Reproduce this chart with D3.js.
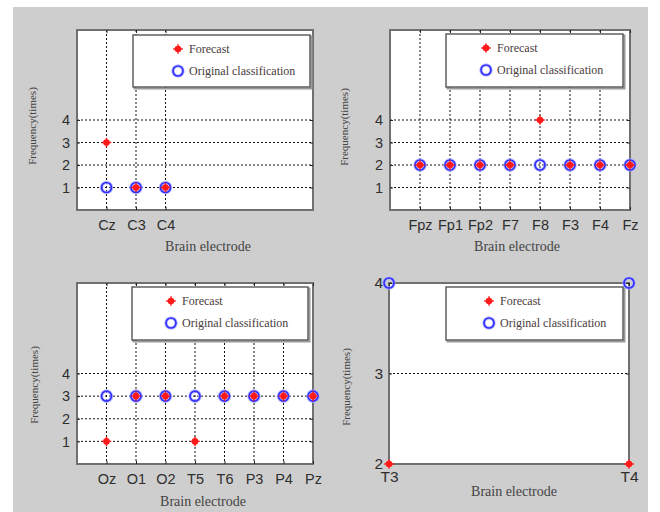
<!DOCTYPE html>
<html><head><meta charset="utf-8">
<script src="https://cdn.jsdelivr.net/npm/d3@7"></script>
<style>html,body{margin:0;padding:0;background:#fff;} svg{display:block;}</style>
</head><body>
<script>
// ---- data ----
const electrodesTL = ["Cz","C3","C4"];
const forecastTL = [3,1,1];
const originalTL = [1,1,1];
const electrodesTR = ["Fpz","Fp1","Fp2","F7","F8","F3","F4","Fz"];
const forecastTR = [2,2,2,2,4,2,2,2];
const originalTR = [2,2,2,2,2,2,2,2];
const electrodesBL = ["Oz","O1","O2","T5","T6","P3","P4","Pz"];
const forecastBL = [1,3,3,1,3,3,3,3];
const originalBL = [3,3,3,3,3,3,3,3];
const electrodesBR = ["T3","T4"];
const forecastBR = [2,2];
const originalBR = [4,4];
const yTicksMain = [1,2,3,4];
const yTicksBR = [2,3,4];
const legendLabels = ["Forecast","Original classification"];
const xAxisTitle = "Brain electrode";
const yAxisTitle = "Frequency(times)";

// ---- layout ----
const panels = [
  {names:electrodesTL, fc:forecastTL, orig:originalTL, yTicks:yTicksMain,
   box:[77,313,30,210], xDom:[0,8], yDom:[0,8],
   leg:[133,35,177,52,45], xl:[208,251], yl:[32,126], tf:14.5, xp:10, yp:7},
  {names:electrodesTR, fc:forecastTR, orig:originalTR, yTicks:yTicksMain,
   box:[390,630,30,210], xDom:[0,8], yDom:[0,8],
   leg:[446,34,177,53,40], xl:[517,251], yl:[344,127], tf:14.5, xp:10, yp:7},
  {names:electrodesBL, fc:forecastBL, orig:originalBL, yTicks:yTicksMain,
   box:[77,313,283,464], xDom:[0,8], yDom:[0,8],
   leg:[132,287,176,53,39], xl:[203,506], yl:[34,385], tf:14.5, xp:10, yp:7},
  {names:electrodesBR, fc:forecastBR, orig:originalBR, yTicks:yTicksBR,
   box:[389,629,283,464], xDom:[1,2], yDom:[2,4],
   leg:[446,287,177,53,43], xl:[514,496], yl:[346,387], tf:15.5, xp:7, yp:6}
];

const W = 660, H = 512;
const svg = d3.select("body").append("svg").attr("width", W).attr("height", H);
svg.append("rect").attr("x",13).attr("y",7).attr("width",635).attr("height",H-7).attr("fill","#cecece");

const sansF = "'Liberation Sans', Arial, sans-serif";
const serifF = "'Liberation Serif', 'Times New Roman', serif";

function drawStar(g, cx, cy) {
  const s = g.append("g").attr("transform", `translate(${cx},${cy})`);
  s.append("circle").attr("r", 3.3).attr("fill", "#ff1a1a");
  s.append("path").attr("d", "M-4.8,0H4.8M0,-4.8V4.8")
    .attr("stroke", "#ff1a1a").attr("stroke-width", 1.4);
}
function drawCircle(g, cx, cy) {
  g.append("circle").attr("cx", cx).attr("cy", cy).attr("r", 5)
    .attr("fill", "none").attr("stroke", "#a8a8ff").attr("stroke-width", 3.6).attr("opacity", 0.7);
  g.append("circle").attr("cx", cx).attr("cy", cy).attr("r", 5)
    .attr("fill", "none").attr("stroke", "#3030ff").attr("stroke-width", 1.7);
}

panels.forEach(p => {
  const [x0,x1,y0,y1] = p.box;
  const x = d3.scaleLinear().domain(p.xDom).range([x0,x1]);
  const y = d3.scaleLinear().domain(p.yDom).range([y1,y0]);
  const xt = d3.range(1, p.names.length + 1);
  const g = svg.append("g");

  g.append("rect").attr("x",x0).attr("y",y0).attr("width",x1-x0).attr("height",y1-y0).attr("fill","#fff");

  // grid
  g.append("g").selectAll("line").data(xt).join("line")
    .attr("x1", d => x(d)).attr("x2", d => x(d)).attr("y1", y0).attr("y2", y1)
    .attr("stroke", "#111").attr("stroke-width", 1).attr("stroke-dasharray", "2,2");
  g.append("g").selectAll("line").data(p.yTicks).join("line")
    .attr("y1", d => y(d)).attr("y2", d => y(d)).attr("x1", x0).attr("x2", x1)
    .attr("stroke", "#111").attr("stroke-width", 1).attr("stroke-dasharray", "2,2");

  // border
  g.append("rect").attr("x",x0).attr("y",y0).attr("width",x1-x0).attr("height",y1-y0)
    .attr("fill","none").attr("stroke","#707070").attr("stroke-width",2);

  // axes
  const ax = [
    g.append("g").attr("transform",`translate(0,${y1})`)
      .call(d3.axisBottom(x).tickValues(xt).tickFormat(i => p.names[i-1]).tickSize(-3).tickPadding(p.xp)),
    g.append("g").attr("transform",`translate(${x0},0)`)
      .call(d3.axisLeft(y).tickValues(p.yTicks).tickFormat(d3.format("d")).tickSize(-3).tickPadding(p.yp)),
    g.append("g").attr("transform",`translate(0,${y0})`)
      .call(d3.axisTop(x).tickValues(xt).tickFormat(() => "").tickSize(-3)),
    g.append("g").attr("transform",`translate(${x1},0)`)
      .call(d3.axisRight(y).tickValues(p.yTicks).tickFormat(() => "").tickSize(-3))
  ];
  ax.forEach(a => {
    a.select(".domain").remove();
    a.selectAll(".tick line").attr("stroke", "#222");
    a.selectAll(".tick text").attr("fill", "#2e2e2e").style("font-family", sansF).style("font-size", p.tf + "px");
  });

  // points
  const pts = g.append("g");
  p.orig.forEach((v, i) => drawCircle(pts, x(i+1), y(v)));
  p.fc.forEach((v, i) => drawStar(pts, x(i+1), y(v)));

  // legend
  const [lx, ly, lw, lh, mx] = p.leg;
  const lg = g.append("g");
  lg.append("rect").attr("x", lx+1.5).attr("y", ly+1.5).attr("width", lw).attr("height", lh)
    .attr("fill", "none").attr("stroke", "#9a9a9a").attr("stroke-width", 2);
  lg.append("rect").attr("x", lx).attr("y", ly).attr("width", lw).attr("height", lh)
    .attr("fill", "#fff").attr("stroke", "#555").attr("stroke-width", 1.4);
  drawStar(lg, lx + mx, ly + 14);
  drawCircle(lg, lx + mx, ly + 36);
  lg.selectAll("text").data(legendLabels).join("text")
    .attr("x", lx + mx + 11).attr("y", (d, i) => ly + (i ? 36 : 14)).attr("dy", "0.35em")
    .attr("fill", "#4a3c3c").style("font-family", serifF).style("font-size", "12px")
    .text(d => d);

  // axis titles
  g.append("text").attr("x", p.xl[0]).attr("y", p.xl[1]).attr("text-anchor", "middle")
    .attr("fill", "#444").style("font-family", serifF).style("font-size", "14px").text(xAxisTitle);
  g.append("text").attr("transform", `translate(${p.yl[0]},${p.yl[1]}) rotate(-90)`)
    .attr("text-anchor", "middle").attr("dy", "0.35em")
    .attr("fill", "#444").style("font-family", serifF).style("font-size", "11px").text(yAxisTitle);
});
</script>
</body></html>
